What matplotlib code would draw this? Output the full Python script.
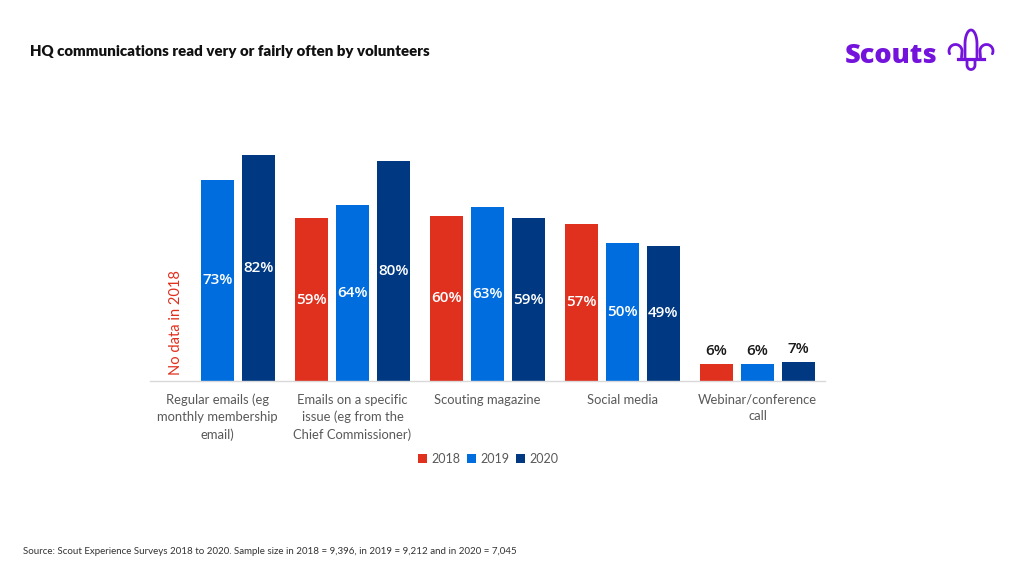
import numpy as np
import matplotlib
matplotlib.use("Agg")
import matplotlib.pyplot as plt
from matplotlib.patches import Patch

categories = ["Regular emails (eg\nmonthly membership\nemail)",
              "Emails on a specific\nissue (eg from the\nChief Commissioner)",
              "Scouting magazine",
              "Social media",
              "Webinar/conference\ncall"]
years = ["2018", "2019", "2020"]
v2018 = [np.nan, 59, 60, 57, 6]
v2019 = [73, 64, 63, 50, 6]
v2020 = [82, 80, 59, 49, 7]
series = [v2018, v2019, v2020]
colors = ["#E0301E", "#006DDF", "#003982"]

W, H = 1024, 576
plt.rcParams['font.family'] = ['Lato', 'DejaVu Sans']
fig = plt.figure(figsize=(W / 100, H / 100), dpi=100)

def fx(px):
    return px / W

def fy(py):
    return 1 - py / H

ax = fig.add_axes([fx(150), fy(381), fx(825) - fx(150), (381 - 105.4) / H])
x = np.arange(len(categories))
bw = 33 / 135
step = 41 / 135
for i, (vals, c) in enumerate(zip(series, colors)):
    xs = x + (i - 1) * step
    ax.bar(xs, vals, width=bw, color=c, zorder=2)
    for xi, v in zip(xs, vals):
        if np.isnan(v):
            continue
        if v < 10:
            ax.text(xi, v + 2.2, f"{v:.0f}%", ha="center", va="bottom",
                    color="#1a1a1a", fontsize=11, fontweight="semibold",
                    family=["Open Sans", "DejaVu Sans"])
        else:
            ax.text(xi, v / 2, f"{v:.0f}%", ha="center", va="center",
                    color="white", fontsize=11, fontweight="semibold",
                    family=["Open Sans", "DejaVu Sans"])

ax.text(x[0] - step, 2, "No data in 2018", rotation=90, ha="center",
        va="bottom", color="#E0301E", fontsize=10.5)

ax.set_xlim(-0.5, len(categories) - 0.5)
ax.set_ylim(0, 100)
ax.set_yticks([])
ax.set_xticks(x)
ax.set_xticklabels(categories, fontsize=9.4, color="#595959", linespacing=1.5)
ax.tick_params(axis="x", length=0, pad=9)
for s in ["top", "right", "left"]:
    ax.spines[s].set_visible(False)
ax.spines["bottom"].set_color("#d9d9d9")
ax.spines["bottom"].set_linewidth(1)

handles = [Patch(facecolor=c, edgecolor="none") for c in colors]
fig.legend(handles, years, loc="center", bbox_to_anchor=(fx(488), fy(459)),
           ncol=3, frameon=False, fontsize=9, handlelength=0.7, handleheight=0.7,
           handletextpad=0.35, columnspacing=0.55, labelcolor="#595959")

fig.text(fx(30), fy(52), "HQ communications read very or fairly often by volunteers",
         fontsize=10.8, fontweight="heavy", color="#111111", va="center", ha="left")
fig.text(fx(23), fy(551), "Source: Scout Experience Surveys 2018 to 2020. Sample size in 2018 = 9,396, in 2019 = 9,212 and in 2020 = 7,045",
         fontsize=7.05, color="#333333", va="center", ha="left")

# Logo
purple = "#7413DC"
fig.text(fx(845), fy(56), "Scouts", fontsize=19.5, fontweight="heavy", color=purple,
         va="center", ha="left", family=["Open Sans", "DejaVu Sans"])
lax = fig.add_axes([0, 0, 1, 1], facecolor="none")
lax.set_xlim(0, W)
lax.set_ylim(H, 0)
lax.axis("off")
lw = 2.0
cxm = 971
# central petal
t = np.linspace(np.pi, 0, 50)
lax.plot(np.r_[cxm - 6, cxm + 6 * np.cos(t), cxm + 6],
         np.r_[57, 44 - 14 * np.sin(t), 57], color=purple, lw=lw)
# side curls
th = np.radians(np.linspace(205, 0, 50))
for sgn in (-1, 1):
    ccx = cxm + sgn * 15.5
    px = ccx - sgn * 6.5 * np.cos(th)
    py = 51 - 6.5 * np.sin(th)
    lax.plot(np.r_[px, px[-1] + sgn * 0.5], np.r_[py, 57.5], color=purple, lw=lw,
             solid_capstyle="round")
# band
lax.plot([958, 984], [58.5, 58.5], color=purple, lw=lw + 0.3)
# bottom bulb
bt = np.linspace(np.pi, 0, 30)
lax.plot(np.r_[cxm - 4, cxm + 4 * np.cos(bt), cxm + 4],
         np.r_[60.5, 65 + 4.5 * np.sin(bt), 60.5], color=purple, lw=lw)

fig.savefig("out.png", dpi=100, facecolor="white")
